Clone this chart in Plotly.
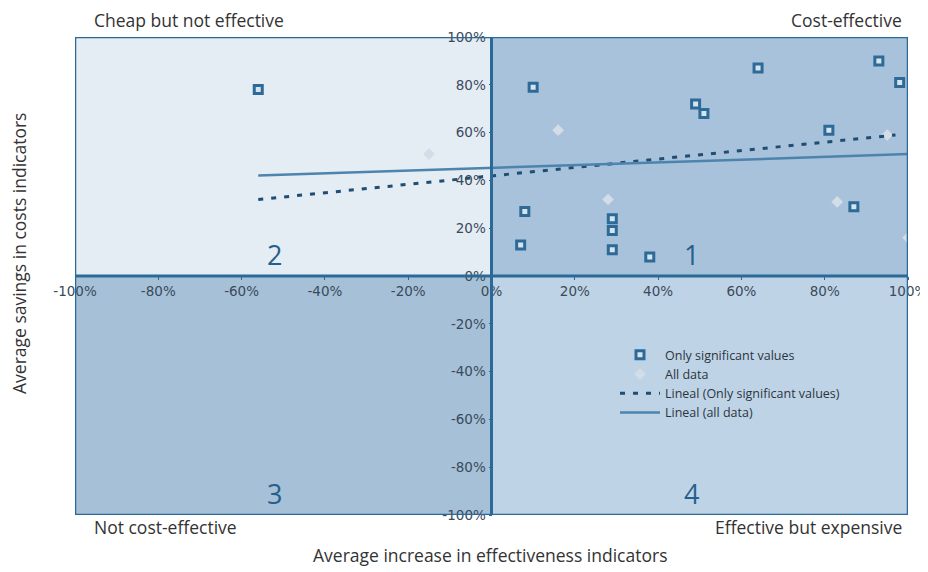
import plotly.graph_objects as go

# Significant values (effectiveness %, cost savings %)
sig_x = [-56, 10, 64, 93, 98, 49, 51, 81, 8, 7, 29, 29, 29, 38, 87]
sig_y = [78, 79, 87, 90, 81, 72, 68, 61, 27, 13, 24, 19, 11, 8, 29]

# Other points of all data
all_x = [-15, 16, 28, 83, 100, 95]
all_y = [51, 61, 32, 31, 16, 59]

# Trend line endpoints
trend_sig_x = [-56, 97]
trend_sig_y = [32, 59]
trend_all_x = [-56, 100]
trend_all_y = [42, 51]

tick_vals = [-100, -80, -60, -40, -20, 0, 20, 40, 60, 80, 100]
tick_text = ["-100%", "-80%", "-60%", "-40%", "-20%", "0%", "20%", "40%", "60%", "80%", "100%"]

DARK = "#2b6a98"
FONT = "Open Sans, Noto Sans, sans-serif"

fig = go.Figure()

fig.add_trace(go.Scatter(
    x=sig_x, y=sig_y, mode="markers", name="Only significant values",
    marker=dict(symbol="square", size=8, color="#d6e4ee",
                line=dict(color="#2d6a98", width=3)),
))
fig.add_trace(go.Scatter(
    x=all_x, y=all_y, mode="markers", name="All data",
    marker=dict(symbol="diamond", size=9, color="#d3dde7", line=dict(width=0)),
))
fig.add_trace(go.Scatter(
    x=trend_sig_x, y=trend_sig_y, mode="lines", name="Lineal (Only significant values)",
    line=dict(color="#1f4d74", width=3, dash="5px,8px"),
))
fig.add_trace(go.Scatter(
    x=trend_all_x, y=trend_all_y, mode="lines", name="Lineal (all data)",
    line=dict(color="#4c84ae", width=2.5),
))

# quadrant backgrounds
quads = [
    (-100, 0, 0, 100, "#e4ecf4"),
    (0, 100, 0, 100, "#a7c2da"),
    (-100, 0, -100, 0, "#a6c0d8"),
    (0, 100, -100, 0, "#bfd3e6"),
]
for x0, x1, y0, y1, c in quads:
    fig.add_shape(type="rect", x0=x0, x1=x1, y0=y0, y1=y1, xref="x", yref="y",
                  fillcolor=c, line=dict(width=0), layer="below")
fig.add_shape(type="rect", x0=-100, x1=100, y0=-100, y1=100, xref="x", yref="y",
              line=dict(color=DARK, width=2.5), layer="above")
fig.add_shape(type="line", x0=-100, x1=100, y0=0, y1=0, xref="x", yref="y",
              line=dict(color=DARK, width=3), layer="above")
fig.add_shape(type="line", x0=0, x1=0, y0=-100, y1=100, xref="x", yref="y",
              line=dict(color=DARK, width=3), layer="above")

# quadrant numbers
for txt, qx, qy in [("2", -52, 9), ("1", 48, 9), ("3", -52, -91), ("4", 48, -91)]:
    fig.add_annotation(x=qx, y=qy, xref="x", yref="y", text=txt, showarrow=False,
                       font=dict(family=FONT, size=27, color="#275f8c"))

# target positions in screenshot pixels; the page body has an 8px margin
OFF = 8
L, R, T, B = 75, 908, 37, 515
W, H = R - L, B - T
FW, FH = 928 - OFF, 572 - OFF
def px(v):
    return (v - L) / W
def py(v):
    return (B - v) / H

corner = [
    ("Cheap but not effective", 92, 20, "left"),
    ("Cost-effective", 904, 20, "right"),
    ("Not cost-effective", 92, 527, "left"),
    ("Effective but expensive", 904, 527, "right"),
]
for txt, cx, cy, anc in corner:
    fig.add_annotation(x=px(cx), y=py(cy), xref="paper", yref="paper", text=txt,
                       showarrow=False, xanchor=anc, yanchor="middle",
                       font=dict(family=FONT, size=17.5, color="#333333"))

fig.add_annotation(x=px(490), y=py(555), xref="paper", yref="paper",
                   xanchor="center", yanchor="middle",
                   text="Average increase in effectiveness indicators", showarrow=False,
                   font=dict(family=FONT, size=17.5, color="#333333"))
fig.add_annotation(x=px(19), y=py(254), xref="paper", yref="paper",
                   xanchor="center", yanchor="middle",
                   text="Average savings in costs indicators", showarrow=False,
                   textangle=-90,
                   font=dict(family=FONT, size=17.5, color="#333333"))

tick_font = dict(family="DejaVu Sans, Verdana, sans-serif", size=13.5, color="#3a4a5a")
axis_common = dict(range=[-100, 100], tickvals=tick_vals, ticktext=tick_text,
                   anchor="free", position=0.5, showgrid=False, zeroline=False,
                   showline=False, ticks="outside", ticklen=3, tickcolor=DARK,
                   tickfont=tick_font, fixedrange=True, automargin=False)
fig.update_layout(
    width=FW, height=FH,
    margin=dict(l=L - OFF, r=FW - (R - OFF), t=T - OFF, b=FH - (B - OFF), autoexpand=False),
    paper_bgcolor="white", plot_bgcolor="white",
    showlegend=True,
    legend=dict(x=px(615), y=py(340), xanchor="left", yanchor="top",
                bgcolor="rgba(0,0,0,0)", font=dict(family=FONT, size=12.5, color="#2b3540"),
                tracegroupgap=0, itemwidth=40),
    xaxis=axis_common,
    yaxis=axis_common,
)

fig.write_html("out.html")
